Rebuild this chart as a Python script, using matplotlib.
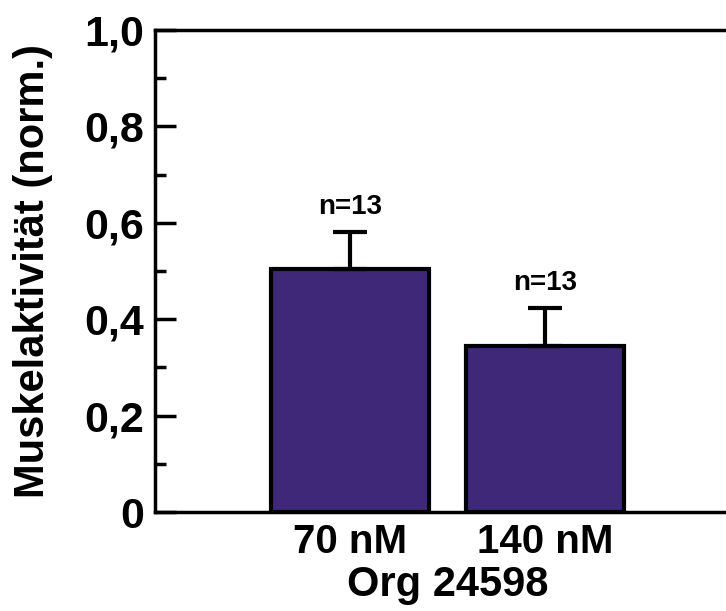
import numpy as np
import matplotlib.pyplot as plt

plt.rcParams['font.family'] = ['Liberation Sans', 'DejaVu Sans']
plt.rcParams['font.weight'] = 'bold'

labels = ['70 nM', '140 nM']
values = [0.504, 0.344]
errors = [0.077, 0.079]
n_text = ['n=13', 'n=13']

fig = plt.figure(figsize=(7.26, 6.11), dpi=100)
ax = fig.add_axes([0.2135, 0.162, 0.806, 0.789])

x = np.arange(1, len(values) + 1)
ax.bar(x, values, width=0.81, color='#3f2877', edgecolor='black', linewidth=3, zorder=2)
ax.errorbar(x, values, yerr=[np.zeros(len(errors)), errors], fmt='none',
            ecolor='black', elinewidth=3, capsize=12, capthick=3, zorder=3)

for xi, v, e, t in zip(x, values, errors, n_text):
    ax.text(xi, v + e + 0.025, t, ha='center', va='bottom', fontsize=20, fontweight='bold')

ax.set_xlim(0, 3)
ax.set_ylim(0, 1.0)
ax.set_xticks(x)
ax.set_xticklabels(labels, fontsize=29, fontweight='bold')
ax.set_yticks([0, 0.2, 0.4, 0.6, 0.8, 1.0])
ax.set_yticklabels(['0', '0,2', '0,4', '0,6', '0,8', '1,0'], fontsize=31, fontweight='bold')
ax.set_yticks([0.1, 0.3, 0.5, 0.7, 0.9], minor=True)
ax.tick_params(axis='y', which='major', direction='in', length=15, width=2.5, pad=8)
ax.tick_params(axis='y', which='minor', direction='in', length=8, width=2.5)
ax.tick_params(axis='x', which='both', length=0, pad=8)

ax.set_xlabel('Org 24598', fontsize=30, fontweight='bold', labelpad=3)
ax.set_ylabel('Muskelaktivität (norm.)', fontsize=30, fontweight='bold', labelpad=22)

for s in ax.spines.values():
    s.set_linewidth(2.5)

fig.savefig('out.png', dpi=100)
